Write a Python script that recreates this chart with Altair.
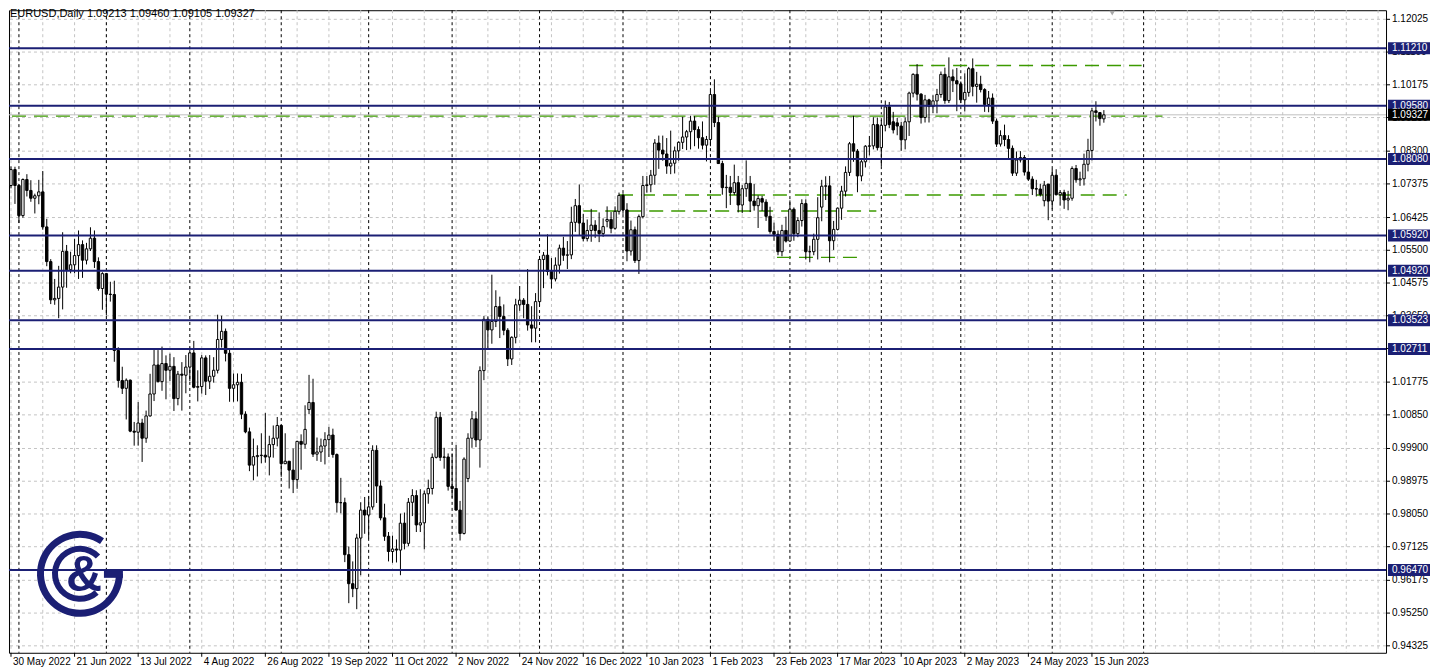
import json
import altair as alt
import pandas as pd

# ---------------- categories (trading days, broker has no 26 Dec 2022 bar) ----------------
dates = pd.bdate_range("2022-05-30", "2023-06-20")
dates = dates[dates != pd.Timestamp("2022-12-26")]

# ---------------- OHLC, month by month ----------------
o_jun22 = [1.0733,1.0778, 1.0733,1.0648,1.0750, 1.0719,1.0697,1.0704,1.0715,1.0616, 1.0518,1.0410,1.0414,1.0446,1.0547, 1.0495,1.0509,1.0535,1.0566,1.0522, 1.0554,1.0584,1.0518,1.0442]
h_jun22 = [1.0787,1.0786, 1.0737,1.0753,1.0765, 1.0748,1.0710,1.0749,1.0774,1.0639, 1.0525,1.0469,1.0506,1.0601,1.0565, 1.0546,1.0582,1.0606,1.0578,1.0571, 1.0615,1.0606,1.0530,1.0488]
l_jun22 = [1.0725,1.0681, 1.0627,1.0642,1.0702, 1.0687,1.0654,1.0680,1.0608,1.0505, 1.0398,1.0396,1.0358,1.0383,1.0444, 1.0485,1.0485,1.0469,1.0472,1.0510, 1.0548,1.0500,1.0436,1.0382]
c_jun22 = [1.0778,1.0733, 1.0648,1.0750,1.0719, 1.0697,1.0704,1.0715,1.0616,1.0518, 1.0410,1.0414,1.0446,1.0547,1.0495, 1.0509,1.0535,1.0566,1.0522,1.0554, 1.0584,1.0518,1.0442,1.0484]

o_jul22 = [1.0484, 1.0426,1.0425,1.0267,1.0182,1.0160, 1.0183,1.0039,1.0036,1.0062,1.0019, 1.0082,1.0144,1.0226,1.0179,1.0230, 1.0211,1.0222,1.0131,1.0200,1.0197]
h_jul22 = [1.0486, 1.0461,1.0464,1.0276,1.0221,1.0188, 1.0185,1.0065,1.0121,1.0074,1.0097, 1.0201,1.0272,1.0268,1.0278,1.0253, 1.0258,1.0248,1.0209,1.0234,1.0254]
l_jul22 = [1.0366, 1.0405,1.0235,1.0162,1.0144,1.0072, 1.0036,0.9998,0.9998,0.9952,1.0006, 1.0080,1.0124,1.0176,1.0153,1.0129, 1.0180,1.0096,1.0112,1.0097,1.0146]
c_jul22 = [1.0426, 1.0425,1.0267,1.0182,1.0160,1.0183, 1.0039,1.0036,1.0062,1.0019,1.0082, 1.0144,1.0226,1.0179,1.0230,1.0211, 1.0222,1.0131,1.0200,1.0197,1.0220]

o_aug22 = [1.0220,1.0260,1.0163,1.0165,1.0246, 1.0180,1.0194,1.0211,1.0298,1.0321, 1.0259,1.0160,1.0170,1.0177,1.0087, 1.0037,0.9943,0.9967,0.9970,0.9971, 0.9966,1.0001,1.0019]
h_aug22 = [1.0275,1.0294,1.0211,1.0254,1.0253, 1.0254,1.0248,1.0368,1.0365,1.0329, 1.0269,1.0202,1.0202,1.0201,1.0095, 1.0049,1.0018,0.9999,1.0033,1.0090, 1.0026,1.0055,1.0079]
l_aug22 = [1.0180,1.0160,1.0123,1.0145,1.0141, 1.0158,1.0176,1.0202,1.0275,1.0236, 1.0122,1.0122,1.0123,1.0073,1.0033, 0.9926,0.9900,0.9911,0.9948,0.9950, 0.9914,0.9964,0.9996]
c_aug22 = [1.0260,1.0163,1.0165,1.0246,1.0180, 1.0194,1.0211,1.0298,1.0321,1.0259, 1.0160,1.0170,1.0177,1.0087,1.0037, 0.9943,0.9967,0.9970,0.9971,0.9966, 1.0001,1.0019,1.0055]

o_sep22 = [1.0055,0.9947, 0.9954,0.9929,0.9902,1.0010,1.0002, 1.0100,1.0120,0.9974,0.9980,0.9997, 1.0015,1.0028,0.9973,0.9837,0.9837, 0.9690,0.9608,0.9594,0.9737,0.9816]
h_sep22 = [1.0057,1.0033, 0.9954,0.9990,1.0012,1.0030,1.0112, 1.0198,1.0187,1.0021,1.0018,1.0036, 1.0051,1.0046,0.9976,0.9907,0.9851, 0.9713,0.9671,0.9749,0.9838,0.9853]
l_sep22 = [0.9910,0.9946, 0.9877,0.9864,0.9876,0.9930,0.9990, 1.0087,0.9966,0.9955,0.9952,0.9945, 0.9966,0.9964,0.9809,0.9807,0.9669, 0.9553,0.9570,0.9536,0.9632,0.9749]
c_sep22 = [0.9947,0.9954, 0.9929,0.9902,1.0010,1.0002,1.0044, 1.0120,0.9974,0.9980,0.9997,1.0015, 1.0028,0.9973,0.9837,0.9837,0.9690, 0.9608,0.9594,0.9737,0.9816,0.9802]

o_oct22 = [0.9802,0.9825,0.9985,0.9884,0.9794, 0.9742,0.9699,0.9706,0.9703,0.9779, 0.9722,0.9838,0.9857,0.9774,0.9780, 0.9862,0.9877,0.9965,1.0078,0.9965, 0.9966]
h_oct22 = [0.9855,0.9999,0.9999,0.9900,0.9834, 0.9754,0.9744,0.9733,0.9806,0.9809, 0.9850,0.9875,0.9872,0.9875,0.9871, 0.9902,0.9976,1.0094,1.0093,0.9992, 0.9976]
l_oct22 = [0.9736,0.9817,0.9836,0.9787,0.9729, 0.9671,0.9667,0.9668,0.9632,0.9705, 0.9714,0.9799,0.9754,0.9754,0.9705, 0.9834,0.9860,0.9962,0.9955,0.9933, 0.9871]
c_oct22 = [0.9825,0.9985,0.9884,0.9794,0.9742, 0.9699,0.9706,0.9703,0.9779,0.9722, 0.9838,0.9857,0.9774,0.9780,0.9862, 0.9877,0.9965,1.0078,0.9965,0.9966, 0.9883]

o_nov22 = [0.9883,0.9877,0.9816,0.9750, 0.9905,1.0019,1.0074,1.0014,1.0210, 1.0355,1.0325,1.0349,1.0391,1.0363, 1.0324,1.0243,1.0304,1.0396,1.0409, 1.0397,1.0339,1.0330]
h_nov22 = [0.9976,1.0000,0.9842,0.9965, 1.0033,1.0096,1.0094,1.0222,1.0364, 1.0363,1.0481,1.0437,1.0419,1.0397, 1.0330,1.0307,1.0413,1.0449,1.0415, 1.0497,1.0392,1.0429]
l_nov22 = [0.9851,0.9815,0.9730,0.9747, 0.9895,0.9992,0.9994,0.9936,1.0183, 1.0270,1.0286,1.0333,1.0302,1.0310, 1.0223,1.0226,1.0287,1.0379,1.0358, 1.0323,1.0290,1.0290]
c_nov22 = [0.9877,0.9816,0.9750,0.9960, 1.0019,1.0074,1.0014,1.0210,1.0355, 1.0325,1.0349,1.0391,1.0363,1.0324, 1.0243,1.0304,1.0396,1.0409,1.0397, 1.0339,1.0330,1.0405]

o_dec22 = [1.0405,1.0524, 1.0536,1.0490,1.0469,1.0508,1.0556, 1.0536,1.0537,1.0629,1.0676,1.0627, 1.0583,1.0606,1.0621,1.0606,1.0597, 1.0632,1.0637,1.0612,1.0660]
h_dec22 = [1.0534,1.0545, 1.0595,1.0528,1.0530,1.0566,1.0588, 1.0576,1.0673,1.0695,1.0736,1.0653, 1.0637,1.0667,1.0635,1.0657,1.0640, 1.0674,1.0658,1.0674,1.0713]
l_dec22 = [1.0392,1.0443, 1.0479,1.0442,1.0462,1.0484,1.0520, 1.0497,1.0525,1.0602,1.0592,1.0575, 1.0575,1.0574,1.0585,1.0573,1.0588, 1.0615,1.0598,1.0608,1.0651]
c_dec22 = [1.0524,1.0536, 1.0490,1.0469,1.0508,1.0556,1.0536, 1.0537,1.0629,1.0676,1.0627,1.0583, 1.0606,1.0621,1.0606,1.0597,1.0617, 1.0637,1.0612,1.0660,1.0705]

o_jan23 = [1.0705,1.0664,1.0548,1.0608,1.0521, 1.0645,1.0733,1.0735,1.0762,1.0853, 1.0833,1.0822,1.0788,1.0796,1.0831, 1.0855,1.0870,1.0885,1.0915,1.0891, 1.0868,1.0847]
h_jan23 = [1.0711,1.0683,1.0634,1.0617,1.0651, 1.0760,1.0760,1.0777,1.0864,1.0874, 1.0874,1.0867,1.0888,1.0843,1.0858, 1.0927,1.0890,1.0930,1.0929,1.0900, 1.0914,1.0873]
l_jan23 = [1.0653,1.0519,1.0535,1.0514,1.0483, 1.0640,1.0713,1.0714,1.0735,1.0780, 1.0803,1.0766,1.0765,1.0767,1.0803, 1.0836,1.0833,1.0835,1.0844,1.0837, 1.0835,1.0801]
c_jan23 = [1.0664,1.0548,1.0608,1.0521,1.0645, 1.0733,1.0735,1.0762,1.0853,1.0833, 1.0822,1.0788,1.0796,1.0831,1.0855, 1.0870,1.0885,1.0915,1.0891,1.0868, 1.0847,1.0863]

o_feb23 = [1.0863,1.0990,1.0911, 1.0795,1.0727,1.0728,1.0713,1.0741, 1.0678,1.0724,1.0739,1.0689,1.0676, 1.0696,1.0686,1.0646,1.0603,1.0595, 1.0546,1.0606]
h_feb23 = [1.1000,1.1033,1.0927, 1.0803,1.0763,1.0760,1.0792,1.0760, 1.0734,1.0804,1.0760,1.0737,1.0705, 1.0704,1.0694,1.0673,1.0628,1.0606, 1.0622,1.0645]
l_feb23 = [1.0844,1.0898,1.0794, 1.0707,1.0669,1.0678,1.0706,1.0657, 1.0655,1.0701,1.0658,1.0662,1.0613, 1.0661,1.0633,1.0597,1.0577,1.0536, 1.0533,1.0572]
c_feb23 = [1.0990,1.0911,1.0795, 1.0727,1.0728,1.0713,1.0741,1.0678, 1.0724,1.0739,1.0689,1.0676,1.0696, 1.0686,1.0646,1.0603,1.0595,1.0546, 1.0606,1.0576]

o_mar23 = [1.0576,1.0666,1.0597, 1.0634,1.0682,1.0546,1.0546,1.0581, 1.0672,1.0731,1.0732,1.0577,1.0609, 1.0669,1.0717,1.0770,1.0851,1.0830, 1.0760,1.0800,1.0844,1.0845,1.0905]
h_mar23 = [1.0691,1.0671,1.0643, 1.0694,1.0694,1.0563,1.0597,1.0700, 1.0749,1.0759,1.0760,1.0633,1.0671, 1.0732,1.0787,1.0856,1.0930,1.0836, 1.0808,1.0847,1.0873,1.0926,1.0925]
l_mar23 = [1.0574,1.0577,1.0587, 1.0617,1.0524,1.0516,1.0536,1.0524, 1.0632,1.0692,1.0516,1.0551,1.0606, 1.0636,1.0702,1.0760,1.0800,1.0714, 1.0745,1.0784,1.0818,1.0835,1.0832]
c_mar23 = [1.0666,1.0597,1.0634, 1.0682,1.0546,1.0546,1.0581,1.0642, 1.0731,1.0732,1.0577,1.0609,1.0669, 1.0717,1.0770,1.0851,1.0830,1.0760, 1.0800,1.0844,1.0845,1.0905,1.0840]

o_apr23 = [1.0840,1.0903,1.0955,1.0913,1.0910, 1.0901,1.0862,1.0913,1.0994,1.1047, 1.0991,1.0925,1.0975,1.0956,1.0972, 1.0990,1.1047,1.0973,1.1040,1.1029]
h_apr23 = [1.0918,1.0973,1.0969,1.0941,1.0924, 1.0913,1.0925,1.0998,1.1050,1.1076, 1.0994,1.0989,1.0978,1.0988,1.1006, 1.1055,1.1066,1.1095,1.1061,1.1065]
l_apr23 = [1.0788,1.0886,1.0895,1.0880,1.0875, 1.0831,1.0835,1.0873,1.0982,1.0973, 1.0908,1.0911,1.0911,1.0938,1.0937, 1.0981,1.0964,1.0966,1.0997,1.0943]
c_apr23 = [1.0903,1.0955,1.0905,1.0890,1.0901, 1.0862,1.0913,1.0994,1.1047,1.0991, 1.0925,1.0975,1.0956,1.0972,1.0990, 1.1047,1.0973,1.1040,1.1029,1.1020]

o_may23 = [1.1020,1.0975,1.0996,1.1063,1.1013, 1.1019,1.1004,1.0962,1.0980,1.0915, 1.0850,1.0874,1.0863,1.0838,1.0768, 1.0805,1.0812,1.0771,1.0751,1.0724, 1.0723,1.0690,1.0737]
h_may23 = [1.1027,1.1050,1.1068,1.1092,1.1054, 1.1043,1.1008,1.1000,1.0993,1.0922, 1.0889,1.0905,1.0875,1.0846,1.0829, 1.0830,1.0819,1.0806,1.0759,1.0749, 1.0738,1.0746,1.0737]
l_may23 = [1.0966,1.0942,1.0984,1.0985,1.0967, 1.0996,1.0941,1.0940,1.0907,1.0842, 1.0843,1.0844,1.0810,1.0760,1.0760, 1.0798,1.0761,1.0746,1.0706,1.0702, 1.0702,1.0674,1.0635]
c_may23 = [1.0975,1.0996,1.1063,1.1013,1.1019, 1.1004,1.0962,1.0980,1.0915,1.0850, 1.0874,1.0863,1.0838,1.0768,1.0805, 1.0812,1.0771,1.0751,1.0724,1.0723, 1.0708,1.0734,1.0689]

o_jun23 = [1.0689,1.0762, 1.0707,1.0713,1.0692,1.0697,1.0781, 1.0749,1.0752,1.0793,1.0832,1.0944, 1.0939,1.09213]
h_jun23 = [1.0780,1.0779, 1.0720,1.0721,1.0718,1.0787,1.0791, 1.0772,1.0823,1.0865,1.0952,1.0971, 1.0940,1.09460]
l_jun23 = [1.0666,1.0705, 1.0676,1.0667,1.0663,1.0690,1.0741, 1.0732,1.0733,1.0773,1.0804,1.0914, 1.0902,1.09105]
c_jun23 = [1.0762,1.0707, 1.0713,1.0692,1.0697,1.0781,1.0749, 1.0752,1.0793,1.0832,1.0944,1.0939, 1.0922,1.09327]

opens = o_jun22 + o_jul22 + o_aug22 + o_sep22 + o_oct22 + o_nov22 + o_dec22 + o_jan23 + o_feb23 + o_mar23 + o_apr23 + o_may23 + o_jun23
highs = h_jun22 + h_jul22 + h_aug22 + h_sep22 + h_oct22 + h_nov22 + h_dec22 + h_jan23 + h_feb23 + h_mar23 + h_apr23 + h_may23 + h_jun23
lows = l_jun22 + l_jul22 + l_aug22 + l_sep22 + l_oct22 + l_nov22 + l_dec22 + l_jan23 + l_feb23 + l_mar23 + l_apr23 + l_may23 + l_jun23
closes = c_jun22 + c_jul22 + c_aug22 + c_sep22 + c_oct22 + c_nov22 + c_dec22 + c_jan23 + c_feb23 + c_mar23 + c_apr23 + c_may23 + c_jun23

n = len(dates)
assert len(opens) == len(highs) == len(lows) == len(closes) == n, (len(opens), n)

# ---------------- levels drawn on the chart ----------------
navy_levels = [1.11210, 1.09580, 1.08080, 1.05920, 1.04920, 1.03523, 1.02711, 0.96470]
current_price = 1.09327
green_prices = [1.0929, 1.1072, 1.0706, 1.0661, 1.0530]
green_from = [0.25, 226.0, 153.0, 144.0, 192.75]
green_to = [289.75, 284.5, 280.75, 217.75, 213.25]
y_ticks = [1.12025, 1.11100, 1.10175, 1.09250, 1.08300, 1.07375, 1.06425, 1.05500, 1.04575, 1.03650,
           1.02725, 1.01775, 1.00850, 0.99900, 0.98975, 0.98050, 0.97125, 0.96175, 0.95250, 0.94325]
header = "EURUSD,Daily  1.09213 1.09460 1.09105 1.09327"

NAVY = "#1b1f74"
GREEN = "#3c9a00"
GRID = "#c4c4c4"
FONT = "Liberation Sans, Arial, sans-serif"
W, H = 1378, 643

# ---------------- tables ----------------
df = pd.DataFrame({"seq": range(n), "open": opens, "high": highs, "low": lows, "close": closes})
df["x0"] = df["seq"] - 0.3
df["x1"] = df["seq"] + 0.3
df["fill"] = ["white" if c >= o else "black" for o, c in zip(opens, closes)]

label_pos = list(range(0, n, 16))
label_txt = [f"{dates[i].day} {dates[i].strftime('%b %Y')}" for i in label_pos]
xl = pd.DataFrame({"seq": label_pos, "txt": label_txt})

yl = pd.DataFrame({"p": y_ticks, "txt": [f"{v:.5f}" for v in y_ticks]})

month_starts = [i for i in range(1, n) if dates[i].month != dates[i - 1].month]
month_starts.append(n - 1 + 10)  # next separator (3 Jul 2023) in the shifted area
grid_x = list(range(0, 347, 8))

x_scale = alt.Scale(domain=[-0.5, 346], nice=False, zero=False)
y_scale = alt.Scale(domain=[0.941284, 1.122819], nice=False, zero=False)
X = lambda f: alt.X(f, scale=x_scale, axis=None)
Y = lambda f: alt.Y(f, scale=y_scale, axis=None)

one = pd.DataFrame({"k": [0]})

# grid
hgrid = alt.Chart(yl).mark_rule(color=GRID, strokeDash=[3, 3], strokeWidth=1).encode(y=Y("p:Q"))
vgrid = alt.Chart(pd.DataFrame({"seq": grid_x})).mark_rule(
    color=GRID, strokeDash=[3, 3], strokeWidth=1
).encode(x=X("seq:Q"))
msep = alt.Chart(pd.DataFrame({"seq": month_starts})).mark_rule(
    color="black", strokeDash=[3, 3], strokeWidth=1
).encode(x=X("seq:Q"))

# axes (drawn by hand)
yticks = alt.Chart(yl).mark_rule(color="black", strokeWidth=1).encode(
    x=alt.value(W), x2=alt.value(W + 4), y=Y("p:Q")
)
ylabels = alt.Chart(yl).mark_text(
    align="left", baseline="middle", font=FONT, fontSize=10, color="black"
).encode(x=alt.value(W + 6), y=Y("p:Q"), text="txt:N")
xticks = alt.Chart(xl).mark_rule(color="black", strokeWidth=1).encode(
    x=X("seq:Q"), y=alt.value(H), y2=alt.value(H + 4)
)
xlabels = alt.Chart(xl).mark_text(
    align="left", baseline="top", font=FONT, fontSize=10, color="black", dx=2
).encode(x=X("seq:Q"), y=alt.value(H + 4), text="txt:N")

gdf = pd.DataFrame({"p": green_prices, "a": green_from, "b": green_to})
green = alt.Chart(gdf).mark_rule(color=GREEN, strokeDash=[14, 8], strokeWidth=1.4).encode(
    x=X("a:Q"), x2="b:Q", y=Y("p:Q")
)

curline = alt.Chart(pd.DataFrame({"p": [current_price]})).mark_rule(
    color="#c0c0c0", strokeWidth=1
).encode(y=Y("p:Q"))

wicks = alt.Chart(df).mark_rule(color="black", strokeWidth=1).encode(
    x=X("seq:Q"), y=Y("low:Q"), y2="high:Q"
)
bodies = alt.Chart(df).mark_rect(stroke="black", strokeWidth=1).encode(
    x=X("x0:Q"), x2="x1:Q", y=Y("open:Q"), y2="close:Q",
    color=alt.Color("fill:N", scale=None),
)

ndf = pd.DataFrame({"p": navy_levels, "txt": [f"{v:.5f}" for v in navy_levels]})
ndf["top"] = ndf["p"] + 0.0017
ndf["bot"] = ndf["p"] - 0.0017
navy = alt.Chart(ndf).mark_rule(color=NAVY, strokeWidth=2).encode(y=Y("p:Q"))
boxes = alt.Chart(ndf).mark_rect(color=NAVY).encode(
    x=alt.value(W + 2), x2=alt.value(W + 44), y=Y("top:Q"), y2="bot:Q"
)
boxtext = alt.Chart(ndf).mark_text(
    color="white", align="left", baseline="middle", font=FONT, fontSize=10
).encode(x=alt.value(W + 6), y=Y("p:Q"), text="txt:N")

cdf = pd.DataFrame({"p": [current_price], "txt": [f"{current_price:.5f}"]})
cdf["top"] = cdf["p"] + 0.0017
cdf["bot"] = cdf["p"] - 0.0017
curbox = alt.Chart(cdf).mark_rect(color="black").encode(
    x=alt.value(W + 2), x2=alt.value(W + 44), y=Y("top:Q"), y2="bot:Q"
)
curtext = alt.Chart(cdf).mark_text(
    color="white", align="left", baseline="middle", font=FONT, fontSize=10
).encode(x=alt.value(W + 6), y=Y("p:Q"), text="txt:N")

head = alt.Chart(one).mark_text(
    text=header, align="left", baseline="middle", font=FONT, fontSize=11, color="black"
).encode(x=alt.value(1), y=alt.value(4))

shift_mark = alt.Chart(one).mark_point(
    shape="triangle-down", filled=True, color="#a8a8a8", size=30, opacity=1
).encode(x=alt.value(1104), y=alt.value(3))

# logo (bottom-left)
cx, cy = 71, 564
ring_out = alt.Chart(one).mark_arc(
    theta=1.571, theta2=6.876, radius=43, radius2=36, color=NAVY
).encode(x=alt.value(cx), y=alt.value(cy))
ring_in = alt.Chart(one).mark_arc(
    theta=2.41, theta2=7.09, radius=28, radius2=22, color=NAVY
).encode(x=alt.value(cx), y=alt.value(cy))
g_bar = alt.Chart(one).mark_rect(color=NAVY).encode(
    x=alt.value(cx + 24), x2=alt.value(cx + 43), y=alt.value(cy - 3), y2=alt.value(cy + 4)
)
amp = alt.Chart(one).mark_text(
    text="&", font=FONT, fontSize=50, fontWeight="bold", color=NAVY, align="center", baseline="middle"
).encode(x=alt.value(cx + 4), y=alt.value(cy + 2))

chart = alt.layer(
    hgrid, vgrid, msep, curline, green, wicks, bodies, navy,
    yticks, ylabels, xticks, xlabels,
    boxes, boxtext, curbox, curtext,
    head, shift_mark, ring_out, ring_in, g_bar, amp,
).properties(
    width=W, height=H, padding=0, background="white"
).configure_view(stroke="black", strokeWidth=1)

chart.save("out.html", embed_options={"renderer": "svg", "actions": False})
